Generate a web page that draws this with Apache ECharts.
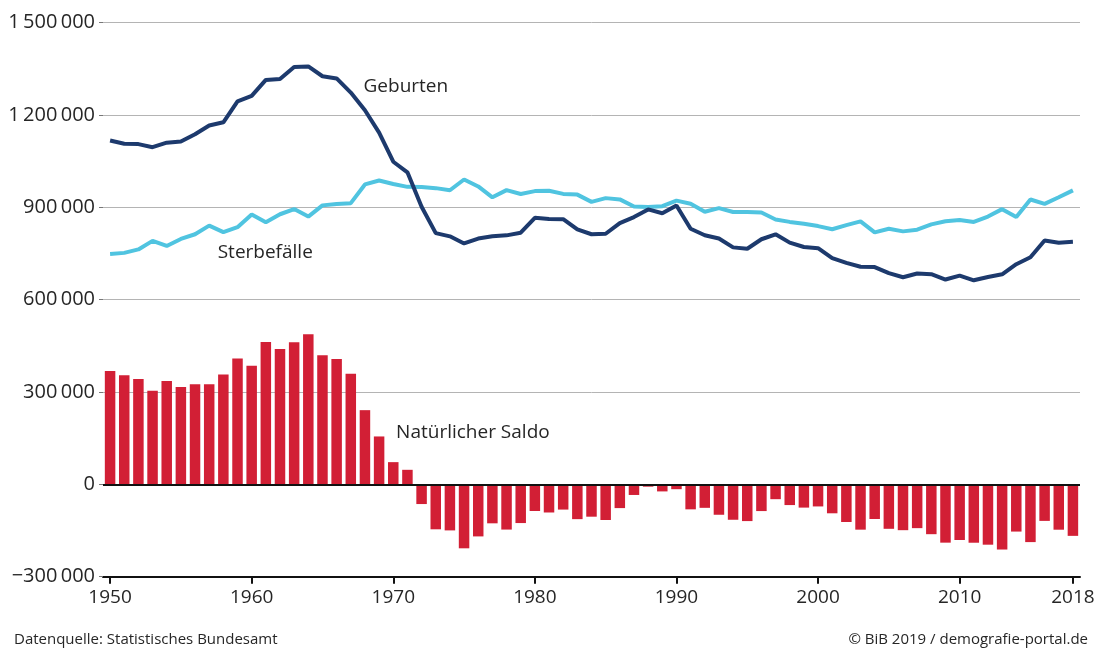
<!DOCTYPE html>
<html>
<head>
<meta charset="utf-8">
<script src="https://cdn.jsdelivr.net/npm/echarts@6/dist/echarts.min.js"></script>
<style>html,body{margin:0;padding:0;background:#fff;}#c{width:1098px;height:648px;}</style>
</head>
<body>
<div id="c"></div>
<script>
const years = [];
for (let y = 1950; y <= 2018; y++) years.push(y);

const geburten = [1116701,1106380,1105084,1095029,1109743,1113408,1137169,1165555,1175870,1243922,
  1261614,1313505,1316534,1355595,1357304,1325386,1318303,1272276,1214968,1142366,
  1047737,1013396,901657,815969,805500,782310,798334,805496,808619,817217,
  865789,862100,861275,827933,812292,813803,848232,867969,892993,880459,
  905675,830019,809114,798447,769603,765221,796013,812173,785034,770744,
  766999,734475,719250,706721,705622,685795,672724,684862,682514,665126,
  677947,662685,673544,682069,714927,737575,792141,784901,787523];

const sterbefaelle = [748329,751767,763001,790737,774140,796927,812225,840215,819050,835072,
  876721,851445,877210,894069,869652,906032,910838,913248,974052,986867,
  975664,966210,965690,962032,955132,990093,967471,932131,955550,943000,
  952371,953561,943300,941000,917400,929600,925426,902500,900627,903441,
  921445,911245,885443,897270,884661,884588,882843,860389,852382,846330,
  838797,828541,841686,853946,818271,830227,821627,827155,844439,854544,
  858768,852328,869582,893825,868356,925200,910899,932272,954874];

const saldo = [368372,354613,342083,304292,335603,316481,324944,325340,356820,408850,
  384893,462060,439324,461526,487652,419354,407465,359028,240916,155499,
  72073,47186,-64033,-146063,-149632,-207783,-169137,-126635,-146931,-125783,
  -86582,-91461,-82025,-113067,-105108,-115797,-77194,-34533,-7634,-22982,
  -15770,-81226,-76329,-98823,-115058,-119367,-86830,-48216,-67348,-75586,
  -71798,-94066,-122436,-147225,-112649,-144432,-148903,-142293,-161925,-189418,
  -180821,-189643,-196038,-211756,-153429,-187625,-118758,-147371,-167351];

const xTicks = [1950,1960,1970,1980,1990,2000,2010,2018];

const pair = (arr) => years.map((y, i) => [y, arr[i]]);

function fmt(v) {
  const a = Math.abs(v);
  let s = String(a);
  if (a >= 1000) s = s.replace(/\B(?=(\d{3})+(?!\d))/g, '\u2009');
  return (v < 0 ? '\u2212' : '') + s;
}

const FONT = '"Open Sans", "Noto Sans", sans-serif';
const TXT = '#262626';

const chart = echarts.init(document.getElementById('c'), null, {renderer: 'canvas'});
chart.setOption({
  animation: false,
  backgroundColor: '#ffffff',
  textStyle: {fontFamily: FONT},
  title: [
    {text: 'Datenquelle: Statistisches Bundesamt', left: 9, top: 627,
     textStyle: {fontSize: 15, fontWeight: 'normal', color: TXT, fontFamily: FONT}},
    {text: '\u00A9 BiB 2019 / demografie-portal.de', right: 5, top: 627,
     textStyle: {fontSize: 15, fontWeight: 'normal', color: TXT, fontFamily: FONT}}
  ],
  grid: {left: 103, right: 18, top: 22.5, bottom: 71.3, containLabel: false},
  xAxis: {
    type: 'value', min: 1949.5, max: 2018.5,
    axisLine: {show: true, onZero: false, lineStyle: {color: '#111', width: 2}},
    axisTick: {show: true, customValues: xTicks, length: 7, lineStyle: {color: '#111', width: 2}},
    axisLabel: {customValues: xTicks, margin: 11, fontSize: 19, color: TXT, fontFamily: FONT,
                formatter: v => String(v)},
    splitLine: {show: false}
  },
  yAxis: {
    type: 'value', min: -300000, max: 1500000, interval: 300000,
    axisLine: {show: false},
    axisTick: {show: true, length: 4, lineStyle: {color: '#777', width: 1}},
    axisLabel: {margin: 8, fontSize: 20, color: TXT, fontFamily: FONT, formatter: fmt},
    splitLine: {show: true, lineStyle: {color: '#b4b4b4', width: 1}}
  },
  series: [
    {
      name: 'Natürlicher Saldo', type: 'bar', data: pair(saldo), barWidth: 10.5,
      itemStyle: {color: '#d21f35'}, z: 2,
      markLine: {
        silent: true, symbol: 'none', label: {show: false},
        lineStyle: {color: '#111', width: 2, type: 'solid'},
        data: [{yAxis: 0}]
      },
      markPoint: {
        silent: true,
        data: [{coord: [1970.2, 166900], symbol: 'circle', symbolSize: 0,
          label: {show: true, position: 'right', distance: 0, formatter: 'Natürlicher Saldo',
                  fontSize: 19, color: TXT, fontFamily: FONT}}]
      }
    },
    {
      name: 'Sterbefälle', type: 'line', data: pair(sterbefaelle), showSymbol: false,
      lineStyle: {color: '#50c4e0', width: 4}, itemStyle: {color: '#50c4e0'}, z: 3,
      markPoint: {
        silent: true,
        data: [{coord: [1957.6, 752600], symbol: 'circle', symbolSize: 0,
          label: {show: true, position: 'right', distance: 0, formatter: 'Sterbefälle',
                  fontSize: 19, color: TXT, fontFamily: FONT}}]
      }
    },
    {
      name: 'Geburten', type: 'line', data: pair(geburten), showSymbol: false,
      lineStyle: {color: '#1d3a6d', width: 4}, itemStyle: {color: '#1d3a6d'}, z: 4,
      markPoint: {
        silent: true,
        data: [{coord: [1967.9, 1292000], symbol: 'circle', symbolSize: 0,
          label: {show: true, position: 'right', distance: 0, formatter: 'Geburten',
                  fontSize: 19, color: TXT, fontFamily: FONT}}]
      }
    }
  ]
});
</script>
</body>
</html>
